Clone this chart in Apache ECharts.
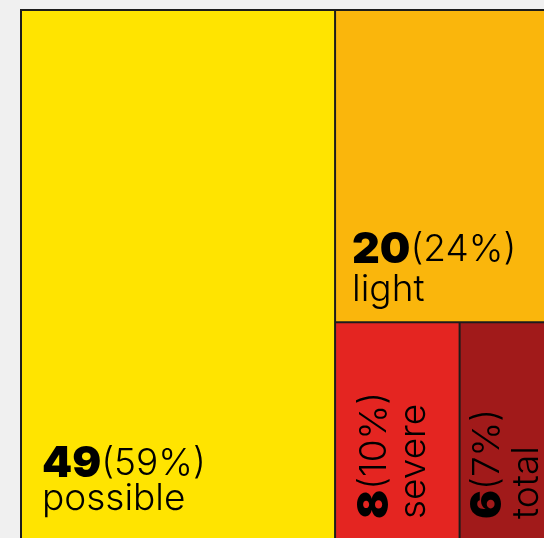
<!DOCTYPE html>
<html>
<head>
<meta charset="utf-8">
<script src="https://cdn.jsdelivr.net/npm/echarts@6/dist/echarts.min.js"></script>
<style>
html,body{margin:0;padding:0;background:#f0f0f0;}
#c{width:544px;height:538px;}
</style>
</head>
<body>
<div id="c"></div>
<script>
const categories = ['possible', 'light', 'severe', 'total'];
const values = [49, 20, 8, 6];
const percents = [59, 24, 10, 7];
const colors = ['#FFE400', '#FAB60C', '#E42521', '#A11A1A'];

function richFor(lh) {
  return {
    b: { fontFamily: 'Inter', fontWeight: 900, fontSize: 43, color: '#000', lineHeight: lh },
    n: { fontFamily: 'Inter', fontWeight: 300, fontSize: 37, color: '#000', lineHeight: lh }
  };
}

// label placement styles per cell
const labelStyles = [
  { position: 'insideBottomLeft', distance: 20, offset: [0, -74], rotate: 0, align: 'left', verticalAlign: 'top', rich: richFor(35.5) },
  { position: 'insideBottomLeft', distance: 16, offset: [0, -75], rotate: 0, align: 'left', verticalAlign: 'top', rich: richFor(39.5) },
  { position: 'insideBottom', distance: 21, offset: [0, -42], rotate: 90, align: 'left', verticalAlign: 'top', rich: richFor(39) },
  { position: 'insideBottom', distance: 21, offset: [0, -38], rotate: 90, align: 'left', verticalAlign: 'top', rich: richFor(39) }
];

const data = categories.map((name, i) => ({
  name: name,
  value: values[i],
  itemStyle: { color: colors[i] },
  label: labelStyles[i]
}));

const chart = echarts.init(document.getElementById('c'), null, { renderer: 'canvas' });
chart.setOption({
  backgroundColor: '#f0f0f0',
  animation: false,
  series: [{
    type: 'treemap',
    left: 20,
    top: 9,
    width: 534,
    height: 533,
    roam: false,
    nodeClick: false,
    squareRatio: 1.23,
    breadcrumb: { show: false },
    emphasis: { disabled: true },
    itemStyle: { borderWidth: 1, borderColor: '#1c1c1c', gapWidth: 0 },
    levels: [
      { itemStyle: { borderWidth: 1, borderColor: '#1c1c1c', gapWidth: 0 } },
      { itemStyle: { borderWidth: 1, borderColor: '#1c1c1c', gapWidth: 0 } }
    ],
    upperLabel: { show: false },
    label: {
      show: true,
      overflow: 'none',
      padding: 0,
      formatter: function (p) {
        const i = categories.indexOf(p.name);
        return '{b|' + values[i] + '}{n|(' + percents[i] + '%)}\n{n|' + categories[i] + '}';
      },
      rich: richFor(36)
    },
    data: data
  }]
});
</script>
</body>
</html>
